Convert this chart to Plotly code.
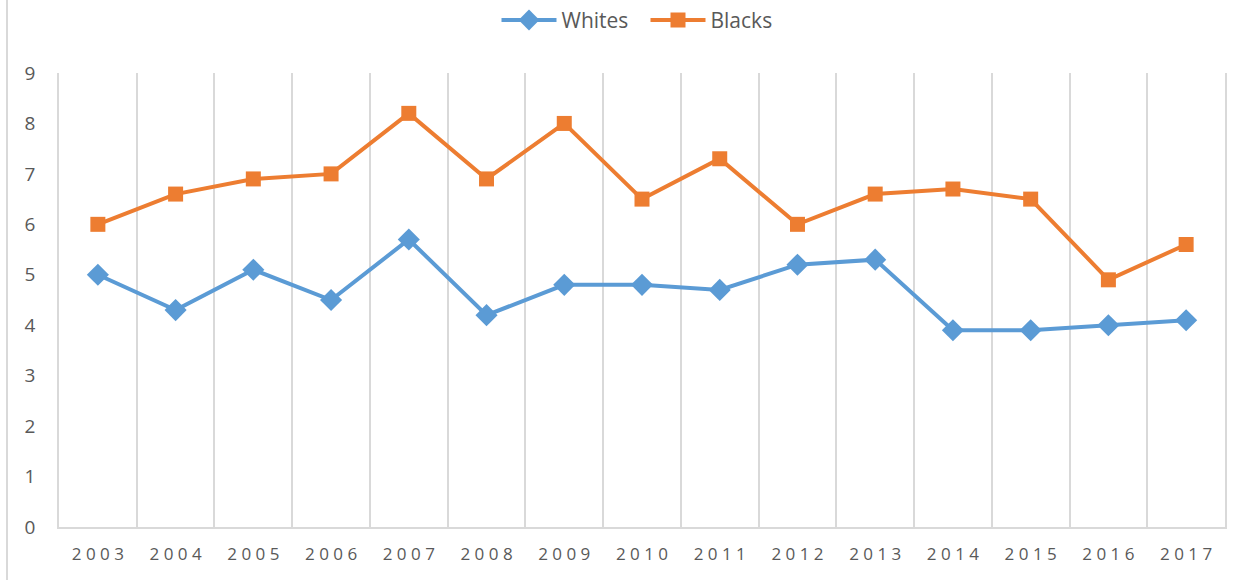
import plotly.graph_objects as go

years = [2003, 2004, 2005, 2006, 2007, 2008, 2009, 2010, 2011, 2012, 2013, 2014, 2015, 2016, 2017]
whites = [5.0, 4.3, 5.1, 4.5, 5.7, 4.2, 4.8, 4.8, 4.7, 5.2, 5.3, 3.9, 3.9, 4.0, 4.1]
blacks = [6.0, 6.6, 6.9, 7.0, 8.2, 6.9, 8.0, 6.5, 7.3, 6.0, 6.6, 6.7, 6.5, 4.9, 5.6]
yticks = list(range(0, 10))

cats = [" ".join(str(y)) for y in years]

fig = go.Figure()
fig.add_trace(go.Scatter(
    x=cats, y=whites, name="Whites", mode="lines+markers",
    line=dict(color="#5B9BD5", width=4),
    marker=dict(symbol="diamond", size=17, color="#5B9BD5"),
))
fig.add_trace(go.Scatter(
    x=cats, y=blacks, name="Blacks", mode="lines+markers",
    line=dict(color="#ED7D31", width=4),
    marker=dict(symbol="square", size=15, color="#ED7D31"),
))

fig.update_layout(
    width=1250, height=580,
    margin=dict(l=59, r=25, t=73, b=53, autoexpand=False),
    paper_bgcolor="white", plot_bgcolor="white",
    font=dict(family="Open Sans, Liberation Sans, sans-serif", color="#595959", size=17),
    showlegend=True,
    legend=dict(orientation="h", x=0.503, xanchor="center", y=1.116, yanchor="middle",
                font=dict(size=21, color="#595959"), traceorder="normal",
                itemwidth=55, entrywidth=79, entrywidthmode="pixels"),
    xaxis=dict(
        type="category", range=[-0.5, len(years) - 0.5], tickson="boundaries",
        showgrid=True, gridcolor="#D9D9D9", gridwidth=1.5,
        showline=True, linecolor="#D9D9D9", linewidth=1.5, mirror=False,
        ticks="", tickfont=dict(size=17, color="#595959"), ticklabelstandoff=11,
        zeroline=False, fixedrange=True, automargin=False,
    ),
    yaxis=dict(
        range=[0, 9], tickvals=yticks, showgrid=False, zeroline=False,
        showline=True, linecolor="#D9D9D9", linewidth=1.5, mirror=True,
        ticks="", tickfont=dict(size=19, color="#595959"), ticklabelstandoff=18,
        fixedrange=True, automargin=False,
    ),
    shapes=[dict(type="line", xref="paper", yref="paper",
                 x0=(7 - 59) / 1166, x1=(7 - 59) / 1166, y0=-0.2, y1=1.3,
                 line=dict(color="#D9D9D9", width=2))],
)

fig.write_html("out.html")
